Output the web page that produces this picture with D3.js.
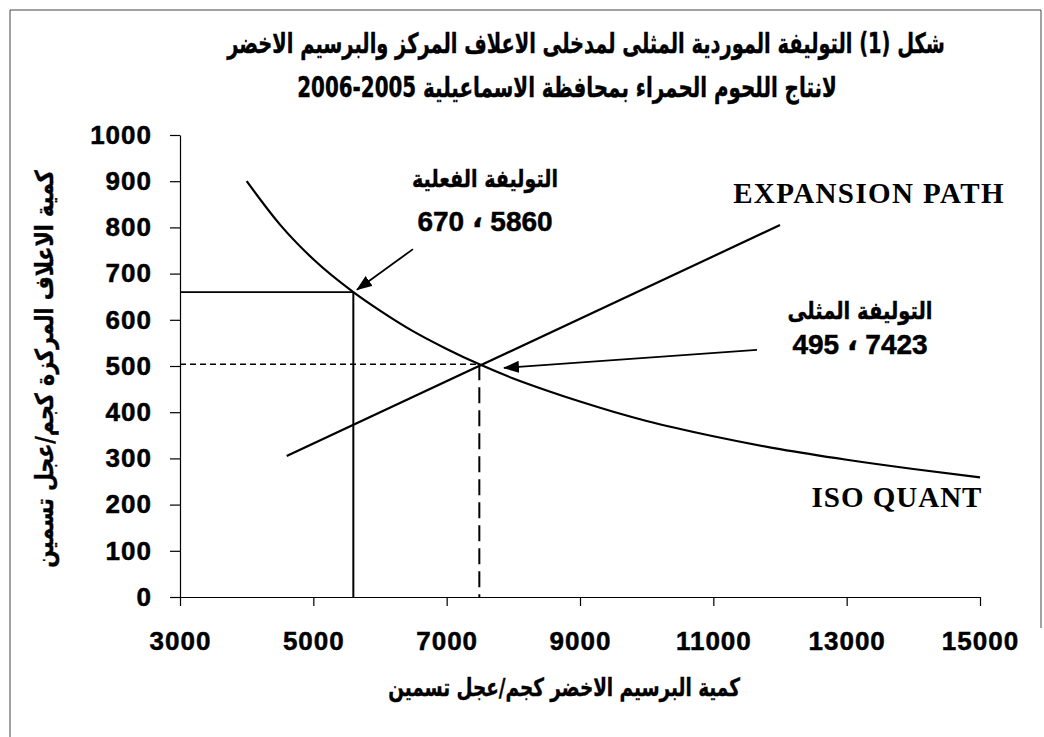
<!DOCTYPE html>
<html>
<head>
<meta charset="utf-8">
<script src="https://cdn.jsdelivr.net/npm/d3@7"></script>
<style>
  body { margin: 0; background: #fff; }
  svg { display: block; }
  .num { font-family: "Liberation Sans", Arial, sans-serif; font-weight: bold; }
  .ar { font-family: "DejaVu Sans", sans-serif; font-weight: bold; }
  .en { font-family: "Liberation Serif", "Times New Roman", serif; font-weight: bold; }
</style>
</head>
<body>
<div id="chart"></div>
<script>
// data
var xTicks = [3000, 5000, 7000, 9000, 11000, 13000, 15000];
var yTicks = [0, 100, 200, 300, 400, 500, 600, 700, 800, 900, 1000];

// iso quant curve (green clover x, concentrate feed y)
var isoQuant = [
    [4000, 900], [4500, 806], [5000, 731], [5600, 660], [6000, 620],
    [6500, 575], [7000, 537], [7500, 503], [8000, 473], [8500, 447],
    [9000, 423], [9500, 401], [10000, 381], [11000, 348], [12000, 320],
    [13000, 297], [14000, 277], [15000, 259]
];
var expansionPath = [[4600, 305], [12000, 805]];

var actualPoint = [5600, 660];
var optimalPoint = [7490, 504];

// arrows: [from, to]
var arrows = [
    [[6495, 753], [5655, 665]],
    [[11655, 535], [7860, 496]]
];

var titleLines = [
    "شكل (1) التوليفة الموردية المثلى لمدخلى الاعلاف المركز والبرسيم الاخضر",
    "لانتاج اللحوم الحمراء بمحافظة الاسماعيلية 2005-2006"
];
var xLabel = "كمية البرسيم الاخضر كجم/عجل تسمين";
var yLabel = "كمية الاعلاف المركزة كجم/عجل تسمين";
var actualLabel = ["التوليفة الفعلية", "670", "5860"];
var optimalLabel = ["التوليفة المثلى", "495", "7423"];

var W = 1044, H = 737;

var svg = d3.select("#chart").append("svg")
    .attr("width", W)
    .attr("height", H);

// frame of the scanned page
svg.append("path")
    .attr("d", "M10,737 L10,10 L1041,10 L1041,628")
    .style("fill", "none")
    .style("stroke", "#444")
    .style("stroke-width", 1);

var x = d3.scaleLinear().domain([3000, 15000]).range([180, 980]);
var y = d3.scaleLinear().domain([0, 1000]).range([597, 135]);

// axes
var xAxis = svg.append("g")
    .attr("transform", "translate(0," + y(0) + ")")
    .call(d3.axisBottom(x).tickValues(xTicks).tickSize(9).tickPadding(26).tickSizeOuter(0)
        .tickFormat(d3.format("d")));
var yAxis = svg.append("g")
    .attr("transform", "translate(" + x(3000) + ",0)")
    .call(d3.axisLeft(y).tickValues(yTicks).tickSize(10).tickPadding(18).tickSizeOuter(0)
        .tickFormat(d3.format("d")));

[xAxis, yAxis].forEach(function(g) {
    g.select(".domain").style("stroke", "#000").style("stroke-width", 1.2);
    g.selectAll(".tick line").style("stroke", "#000").style("stroke-width", 1.2);
    g.selectAll(".tick text")
        .attr("class", "num")
        .style("font-size", "26px")
        .style("letter-spacing", "1px")
        .style("stroke", "#000")
        .style("stroke-width", 0.5)
        .style("fill", "#000");
});

// guide lines to the points
var guide = svg.append("g").style("stroke", "#000").style("fill", "none");
guide.append("line")
    .attr("x1", x(3000)).attr("y1", y(actualPoint[1]))
    .attr("x2", x(actualPoint[0])).attr("y2", y(actualPoint[1]))
    .style("stroke-width", 1.8);
guide.append("line")
    .attr("x1", x(actualPoint[0])).attr("y1", y(actualPoint[1]))
    .attr("x2", x(actualPoint[0])).attr("y2", y(0))
    .style("stroke-width", 2);
guide.append("line")
    .attr("x1", x(3000)).attr("y1", y(optimalPoint[1]))
    .attr("x2", x(optimalPoint[0])).attr("y2", y(optimalPoint[1]))
    .style("stroke-width", 1.5)
    .style("stroke-dasharray", "6,4");
guide.append("line")
    .attr("x1", x(optimalPoint[0])).attr("y1", y(optimalPoint[1]))
    .attr("x2", x(optimalPoint[0])).attr("y2", y(0))
    .style("stroke-width", 2)
    .style("stroke-dasharray", "16,7");

// curves
var line = d3.line()
    .x(function(d) { return x(d[0]); })
    .y(function(d) { return y(d[1]); })
    .curve(d3.curveMonotoneX);

svg.append("path")
    .datum(isoQuant)
    .attr("d", line)
    .style("fill", "none")
    .style("stroke", "#000")
    .style("stroke-width", 2.2);

svg.append("path")
    .datum(expansionPath)
    .attr("d", d3.line().x(function(d) { return x(d[0]); }).y(function(d) { return y(d[1]); }))
    .style("fill", "none")
    .style("stroke", "#000")
    .style("stroke-width", 2.2);

// arrows
svg.append("defs").append("marker")
    .attr("id", "head")
    .attr("markerUnits", "userSpaceOnUse")
    .attr("markerWidth", 16)
    .attr("markerHeight", 12)
    .attr("refX", 15)
    .attr("refY", 6)
    .attr("orient", "auto")
    .append("path")
    .attr("d", "M0,0 L16,6 L0,12 Z")
    .style("fill", "#000");

svg.selectAll(".arrow")
    .data(arrows)
    .enter().append("line")
    .attr("class", "arrow")
    .attr("x1", function(d) { return x(d[0][0]); })
    .attr("y1", function(d) { return y(d[0][1]); })
    .attr("x2", function(d) { return x(d[1][0]); })
    .attr("y2", function(d) { return y(d[1][1]); })
    .style("stroke", "#000")
    .style("stroke-width", 1.8)
    .attr("marker-end", "url(#head)");

// arabic text, squeezed to the width it has in the scan
function arText(txt, cx, cy, size, width, rot) {
    var t = svg.append("text")
        .attr("class", "ar")
        .attr("direction", "rtl")
        .attr("text-anchor", "middle")
        .style("font-size", size + "px")
        .style("stroke", "#000")
        .style("stroke-width", 0.4)
        .text(txt);
    var k = width / t.node().getComputedTextLength();
    t.attr("transform", "translate(" + cx + "," + cy + ")" +
        (rot ? " rotate(" + rot + ")" : "") + " scale(" + k + ",1)");
    return t;
}

arText(titleLines[0], 586, 53, 28, 718);
arText(titleLines[1], 567, 97, 28, 540);
arText(xLabel, 564, 696, 25, 352);
arText(yLabel, 53, 369, 25, 398, -90);

function pointLabel(lines, cx, y1, y2, w) {
    arText(lines[0], cx, y1, 24, w);
    var t = svg.append("text")
        .attr("class", "num")
        .attr("x", cx).attr("y", y2)
        .attr("text-anchor", "middle")
        .style("font-size", "28px")
        .style("letter-spacing", "1.5px")
        .style("stroke", "#000")
        .style("stroke-width", 0.5);
    t.append("tspan").text(lines[1] + " ");
    t.append("tspan").attr("dy", -4).style("font-family", "DejaVu Sans").text("،");
    t.append("tspan").attr("dy", 4).text(" " + lines[2]);
}
pointLabel(actualLabel, 485, 187, 231, 146);
pointLabel(optimalLabel, 860, 319, 354, 145);

svg.append("text")
    .attr("class", "en")
    .attr("x", 869).attr("y", 203)
    .attr("text-anchor", "middle")
    .style("font-size", "29px")
    .style("letter-spacing", "1.4px")
    .text("EXPANSION PATH");

svg.append("text")
    .attr("class", "en")
    .attr("x", 897).attr("y", 507)
    .attr("text-anchor", "middle")
    .style("font-size", "29px")
    .style("letter-spacing", "1px")
    .text("ISO QUANT");
</script>
</body>
</html>
